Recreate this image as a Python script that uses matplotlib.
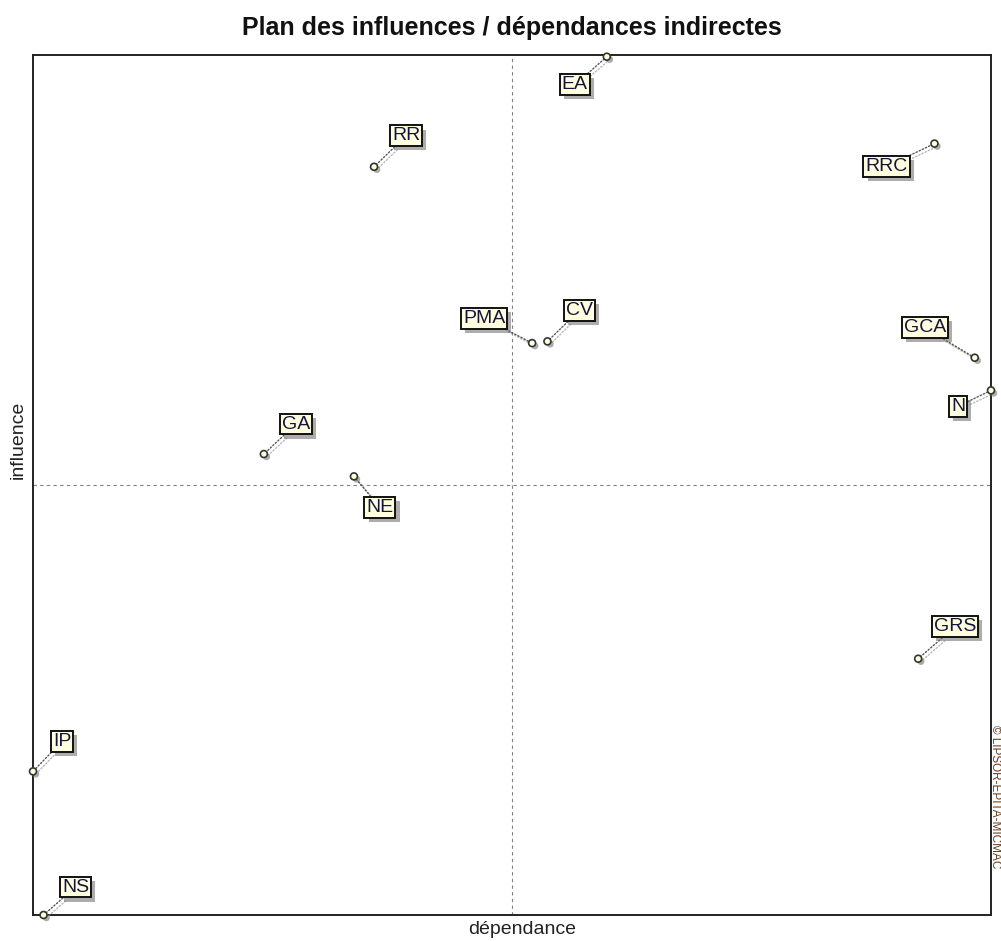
import matplotlib
matplotlib.use("Agg")
import matplotlib.pyplot as plt
import matplotlib.patheffects as pe

plt.rcParams['font.family'] = ['Liberation Sans', 'DejaVu Sans']

# Data (dependance, influence) on a 0-100 scale
labels = ["EA", "RR", "RRC", "PMA", "CV", "GCA", "N", "GA", "NE", "GRS", "IP", "NS"]
dependance = [59.9, 35.6, 94.1, 52.1, 53.7, 98.3, 100.0, 24.1, 33.5, 92.4, 0.0, 1.1]
influence = [99.8, 87.0, 89.7, 66.5, 66.7, 64.8, 61.0, 53.6, 51.0, 29.8, 16.7, 0.0]
# label offsets in pixels (dx, dy) relative to the point
offsets = [(-32, -28), (32, 31), (-48, -23), (-48, 25), (32, 31), (-50, 30),
           (-33, -16), (32, 30), (26, -31), (37, 32), (29, 30), (32, 28)]

fig = plt.figure(figsize=(10.01, 9.41), dpi=100)
ax = fig.add_axes([33/1001, 26/941, 958/1001, 860/941])
ax.set_xlim(0, 100)
ax.set_ylim(0, 100)
ax.set_xticks([])
ax.set_yticks([])
for s in ax.spines.values():
    s.set_linewidth(1.4)
    s.set_color('#222222')

ax.axvline(50, color='#808080', lw=0.8, ls=(0, (3, 3)), zorder=1)
ax.axhline(50, color='#808080', lw=0.8, ls=(0, (3, 3)), zorder=1)

shadow = [pe.SimpleLineShadow(offset=(2, -2), shadow_color='#888888', alpha=0.6), pe.Normal()]
for lab, x, y, (dx, dy) in zip(labels, dependance, influence, offsets):
    t = ax.annotate(lab, xy=(x, y), xytext=(dx, dy), textcoords='offset pixels',
                    ha='center', va='center', fontsize=14, color='#14143c',
                    bbox=dict(boxstyle='square,pad=0.1', fc='#FFFFE0', ec='#111111', lw=1.4),
                    arrowprops=dict(arrowstyle='-', ls=(0, (1, 1.5)), color='#555555', lw=1.0,
                                    shrinkA=0, shrinkB=2, path_effects=shadow),
                    zorder=5, annotation_clip=False)
    t.get_bbox_patch().set_path_effects([pe.withSimplePatchShadow(offset=(3, -3), shadow_rgbFace='#777777', alpha=0.6)])

ax.plot(dependance, influence, 'o', ls='none', ms=5, mfc='#FFFFD8', mec='#333333', mew=1.2,
        clip_on=False, zorder=6,
        path_effects=[pe.withSimplePatchShadow(offset=(2, -2), shadow_rgbFace='#777777', alpha=0.6)])

fig.text(512/1001, 1 - 28/941, "Plan des influences / dépendances indirectes",
         ha='center', va='center', fontsize=18, fontweight='bold', color='#111111')
fig.text(522/1001, 1 - 929/941, "dépendance", ha='center', va='center', fontsize=14, color='#222222')
fig.text(18/1001, 1 - 440/941, "influence", ha='center', va='center', rotation=90,
         fontsize=14, color='#222222')
fig.text(995.5/1001, 1 - 725/941, "© LIPSOR-EPITA-MICMAC", ha='center', va='top', rotation=-90,
         fontsize=8.5, color='#6b3a1a')

fig.savefig("out.png", dpi=100)
